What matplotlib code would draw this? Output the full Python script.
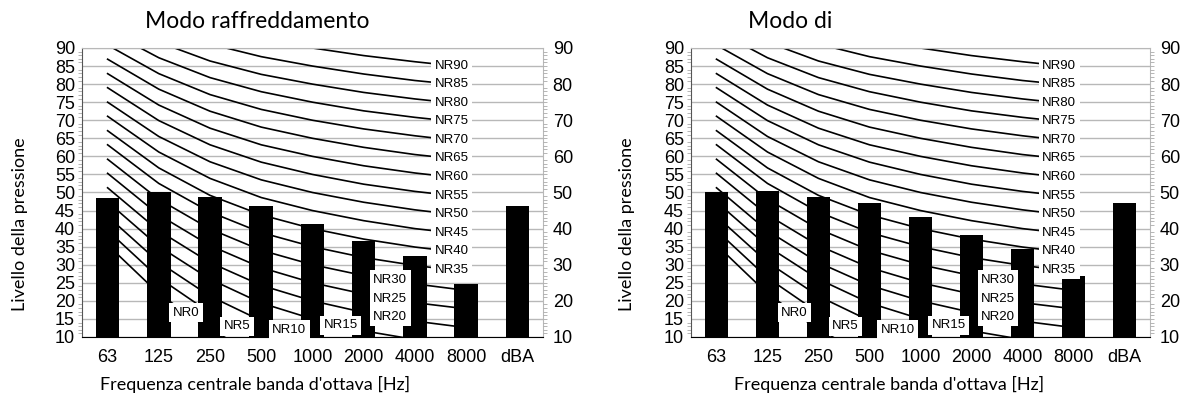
import numpy as np
import matplotlib.pyplot as plt
from matplotlib.ticker import MultipleLocator

bands = ["63", "125", "250", "500", "1000", "2000", "4000", "8000", "dBA"]
cooling = [48.5, 50.2, 48.8, 46.2, 41.4, 36.6, 32.4, 24.8, 46.2]
heating = [50.0, 50.4, 48.8, 47.0, 43.1, 38.3, 34.4, 26.8, 47.2]

# NR curve levels (dB) at 63 ... 8000 Hz
nr_levels = [0, 5, 10, 15, 20, 25, 30, 35, 40, 45, 50, 55, 60, 65, 70, 75, 80, 85, 90]
nr_curves = [
    [35.5, 22.0, 12.0, 4.8, 0, -3.5, -6.1, -8.0],
    [39.5, 26.4, 16.7, 9.7, 5, 1.6, -1.0, -2.9],
    [43.4, 30.7, 21.3, 14.5, 10, 6.7, 4.2, 2.3],
    [47.4, 35.1, 26.0, 19.4, 15, 11.7, 9.3, 7.5],
    [51.3, 39.4, 30.6, 24.3, 20, 16.8, 14.4, 12.6],
    [55.3, 43.8, 35.3, 29.2, 25, 21.9, 19.5, 17.8],
    [59.2, 48.1, 39.9, 34.0, 30, 27.0, 24.7, 22.9],
    [63.2, 52.5, 44.6, 38.9, 35, 32.0, 29.8, 28.1],
    [67.1, 56.8, 49.2, 43.8, 40, 37.1, 34.9, 33.2],
    [71.1, 61.2, 53.9, 48.6, 45, 42.2, 40.0, 38.4],
    [75.0, 65.5, 58.5, 53.5, 50, 47.3, 45.2, 43.5],
    [79.0, 69.9, 63.2, 58.4, 55, 52.3, 50.3, 48.7],
    [82.9, 74.2, 67.8, 63.2, 60, 57.4, 55.4, 53.8],
    [86.9, 78.6, 72.5, 68.1, 65, 62.5, 60.5, 59.0],
    [90.8, 82.9, 77.1, 73.0, 70, 67.6, 65.7, 64.1],
    [94.8, 87.3, 81.8, 77.9, 75, 72.6, 70.8, 69.3],
    [98.7, 91.6, 86.4, 82.7, 80, 77.7, 75.9, 74.4],
    [102.7, 96.0, 91.1, 87.6, 85, 82.8, 81.0, 79.6],
    [106.6, 100.3, 95.7, 92.5, 90, 87.9, 86.2, 84.7],
]
# where along the band axis each NR label sits
nr_label_pos = [1.53, 2.53, 3.55, 4.55, 5.52, 5.52, 5.52] + [6.72] * 12

titles = ["Modo raffreddamento", "Modo di"]

plt.rcParams["font.family"] = "Liberation Sans"
text_font = "Lato"

fig = plt.figure(figsize=(11.92, 3.98), dpi=100)


def draw_panel(rect, values, title, title_x, xlabel_x, ylabel_x):
    ax = fig.add_axes(rect)
    x = np.arange(len(bands))
    xc = np.arange(len(nr_curves[0]))

    for row in nr_curves:
        ax.plot(xc, row, color="black", lw=1.2, zorder=2)

    ax.bar(x, values, width=0.46, color="black", zorder=3)

    for lvl, row, px in zip(nr_levels, nr_curves, nr_label_pos):
        py = np.interp(px, xc, row)
        ax.text(px, py, f"NR{lvl}", fontsize=9.5,
                ha="center", va="center", zorder=5,
                bbox=dict(facecolor="white", edgecolor="none", pad=2.5))

    ax.set_xlim(-0.5, len(bands) - 0.5)
    ax.set_ylim(10, 90)
    ax.set_xticks(x)
    ax.set_xticklabels(bands, fontsize=13)
    ax.tick_params(axis="x", length=0, pad=9)
    ax.yaxis.set_major_locator(MultipleLocator(5))
    ax.yaxis.set_minor_locator(MultipleLocator(1))
    ax.tick_params(axis="y", which="major", length=0, pad=5, labelsize=13)
    ax.tick_params(axis="y", which="minor", length=3, color="#aaaaaa")
    ax.yaxis.grid(True, color="#b8b8b8", lw=1.0, zorder=0)
    ax.set_axisbelow(True)

    ax.spines["top"].set_color("#b8b8b8")
    ax.spines["right"].set_color("#b8b8b8")
    ax.spines["left"].set_color("#555555")
    ax.spines["bottom"].set_color("black")

    ax2 = ax.twinx()
    ax2.set_ylim(10, 90)
    ax2.yaxis.set_major_locator(MultipleLocator(10))
    ax2.yaxis.set_minor_locator(MultipleLocator(1))
    ax2.tick_params(axis="y", which="major", length=0, pad=7, labelsize=13)
    ax2.tick_params(axis="y", which="minor", length=3, color="#aaaaaa")
    for s in ax2.spines.values():
        s.set_visible(False)

    fig.text(title_x, 0.947, title, family=text_font, fontsize=16.5,
             ha="center", va="center")
    fig.text(xlabel_x, 0.033, "Frequenza centrale banda d'ottava [Hz]",
             family=text_font, fontsize=13, ha="center", va="center")
    fig.text(ylabel_x, 0.437, "Livello della pressione", family=text_font,
             fontsize=13, rotation=90, ha="center", va="center")


draw_panel([0.0688, 0.1533, 0.3867, 0.7261], cooling, titles[0], 0.2156, 0.214, 0.017)
draw_panel([0.5797, 0.1533, 0.3851, 0.7261], heating, titles[1], 0.663, 0.746, 0.526)

fig.savefig("out.png", dpi=100)
